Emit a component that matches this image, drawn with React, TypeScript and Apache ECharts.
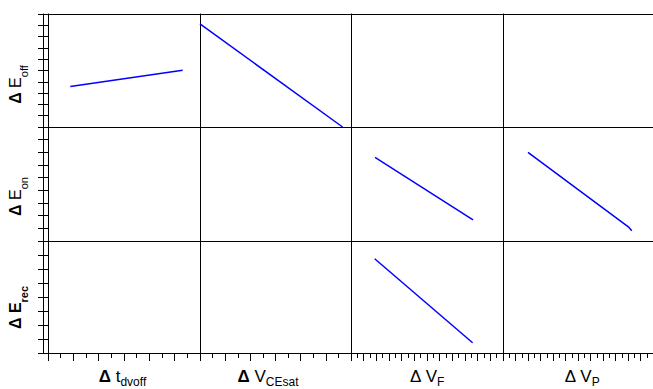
import React, { useEffect, useRef } from "react";
import * as echarts from "echarts";

// ---- data (axis units) ----
const rowMax = [10, 9, 8];
const colMax = [12, 12, 24, 24];

const offVsTdvoff = [[1.76, 3.58], [10.63, 5.03]];
const offVsVcesat = [[0, 9.12], [11.33, 0]];
const onVsVf = [[3.79, 6.6], [19.27, 1.66]];
const onVsVp = [[4.0, 6.99], [20.16, 1.07], [20.6, 0.81]];
const recVsVf = [[3.74, 6.73], [19.2, 0.73]];

const panelSeries: { row: number; col: number; data: number[][] }[] = [
  { row: 0, col: 0, data: offVsTdvoff },
  { row: 0, col: 1, data: offVsVcesat },
  { row: 1, col: 2, data: onVsVf },
  { row: 1, col: 3, data: onVsVp },
  { row: 2, col: 2, data: recVsVf },
];

const yLabels = ["{d|Δ} {e|E}{s|off}", "{d|Δ} {e|E}{s|on}", "{d|Δ} {eb|E}{sb|rec}"];
const xLabels = ["{d|Δ} {v|t}{s|dvoff}", "{d|Δ} {v|V}{s|CEsat}", "Δ {v|V}{s|F}", "Δ {v|V}{s|P}"];

// ---- layout ----
const gridLeft = [48, 200, 351, 503];
const gridWidth = [152, 151, 152, 150];
const gridTop = [14, 127, 241];
const gridHeight = [113, 114, 113];

const FONT = '"Liberation Sans", Arial, sans-serif';
const BLACK = "#000";

const yRich = {
  d: { fontFamily: FONT, fontSize: 16, fontWeight: "bold", lineHeight: 27, verticalAlign: "middle", color: BLACK },
  e: { fontFamily: FONT, fontSize: 16, fontWeight: "normal", lineHeight: 27, verticalAlign: "middle", color: BLACK },
  eb: { fontFamily: FONT, fontSize: 16, fontWeight: "bold", lineHeight: 27, verticalAlign: "middle", color: BLACK },
  s: { fontFamily: FONT, fontSize: 11, fontWeight: "normal", lineHeight: 11, verticalAlign: "bottom", color: BLACK },
  sb: { fontFamily: FONT, fontSize: 11, fontWeight: "bold", lineHeight: 11, verticalAlign: "bottom", color: BLACK },
};
const xRich = {
  d: { fontFamily: FONT, fontSize: 17, fontWeight: "bold", lineHeight: 23, verticalAlign: "middle", color: BLACK },
  v: { fontFamily: FONT, fontSize: 17, fontWeight: "normal", lineHeight: 23, verticalAlign: "middle", color: BLACK },
  s: { fontFamily: FONT, fontSize: 12, fontWeight: "normal", lineHeight: 12, verticalAlign: "bottom", color: BLACK },
};
const yPad = [[0, 28, 0, 0], [0, 25, 0, 0], [0, 21, 0, 0]];
const xPad = [[0, 3, 0, 0], [0, 15, 0, 0], [0, 0, 0, 0], [0, 0, 0, 8]];

function buildOption() {
  const grid: any[] = [];
  const xAxis: any[] = [];
  const yAxis: any[] = [];
  const axisLine = { show: true, onZero: false, lineStyle: { color: BLACK, width: 1 } };
  for (let r = 0; r < 3; r++) {
    for (let c = 0; c < 4; c++) {
      const g = r * 4 + c;
      grid.push({ left: gridLeft[c], top: gridTop[r], width: gridWidth[c], height: gridHeight[r], containLabel: false });
      const bottomRow = r === 2;
      xAxis.push({
        type: "value",
        gridIndex: g,
        position: "bottom",
        min: 0,
        max: colMax[c],
        interval: 2,
        axisLine,
        axisTick: { show: bottomRow, inside: false, length: 8, lineStyle: { color: BLACK, width: 1 } },
        minorTick: { show: bottomRow, splitNumber: 2, length: 5, lineStyle: { color: BLACK, width: 1 } },
        axisLabel: { show: false },
        splitLine: { show: false },
        name: bottomRow ? xLabels[c] : "",
        nameLocation: "middle",
        nameGap: 12,
        nameTextStyle: {
          fontFamily: FONT,
          fontSize: 17,
          lineHeight: 23,
          color: BLACK,
          padding: xPad[c],
          rich: xRich,
        },
      });
      const firstCol = c === 0;
      yAxis.push({
        type: "value",
        gridIndex: g,
        position: "left",
        min: 0,
        max: rowMax[r],
        interval: 1,
        axisLine,
        axisTick: { show: firstCol, inside: false, length: 10, lineStyle: { color: BLACK, width: 1 } },
        axisLabel: { show: false },
        splitLine: { show: false },
        name: firstCol ? yLabels[r] : "",
        nameLocation: "middle",
        nameGap: 19,
        nameTextStyle: {
          fontFamily: FONT,
          fontSize: 16,
          lineHeight: 27,
          color: BLACK,
          padding: yPad[r],
          rich: yRich,
        },
      });
    }
  }
  // top border of first row
  for (let c = 0; c < 4; c++) {
    xAxis.push({
      type: "value",
      gridIndex: c,
      position: "top",
      min: 0,
      max: colMax[c],
      axisLine,
      axisTick: { show: false },
      axisLabel: { show: false },
      splitLine: { show: false },
    });
  }
  // outer line of the left ladder
  for (let r = 0; r < 3; r++) {
    yAxis.push({
      type: "value",
      gridIndex: r * 4,
      position: "left",
      offset: 5,
      min: 0,
      max: rowMax[r],
      axisLine,
      axisTick: { show: false },
      axisLabel: { show: false },
      splitLine: { show: false },
    });
  }
  const series = panelSeries.map((p) => ({
    type: "line",
    xAxisIndex: p.row * 4 + p.col,
    yAxisIndex: p.row * 4 + p.col,
    data: p.data,
    showSymbol: false,
    symbol: "none",
    lineStyle: { color: "#0000ff", width: 1.5 },
    silent: true,
  }));
  return { animation: false, backgroundColor: "#fff", grid, xAxis, yAxis, series };
}

export default function App() {
  const ref = useRef<HTMLDivElement>(null);
  useEffect(() => {
    if (!ref.current) return;
    const chart = echarts.init(ref.current, undefined, { renderer: "svg" });
    chart.setOption(buildOption() as any);
    return () => chart.dispose();
  }, []);
  return (
    <div
      ref={ref}
      style={{ position: "fixed", left: 0, top: 0, width: 653, height: 389, background: "#fff" }}
    />
  );
}
